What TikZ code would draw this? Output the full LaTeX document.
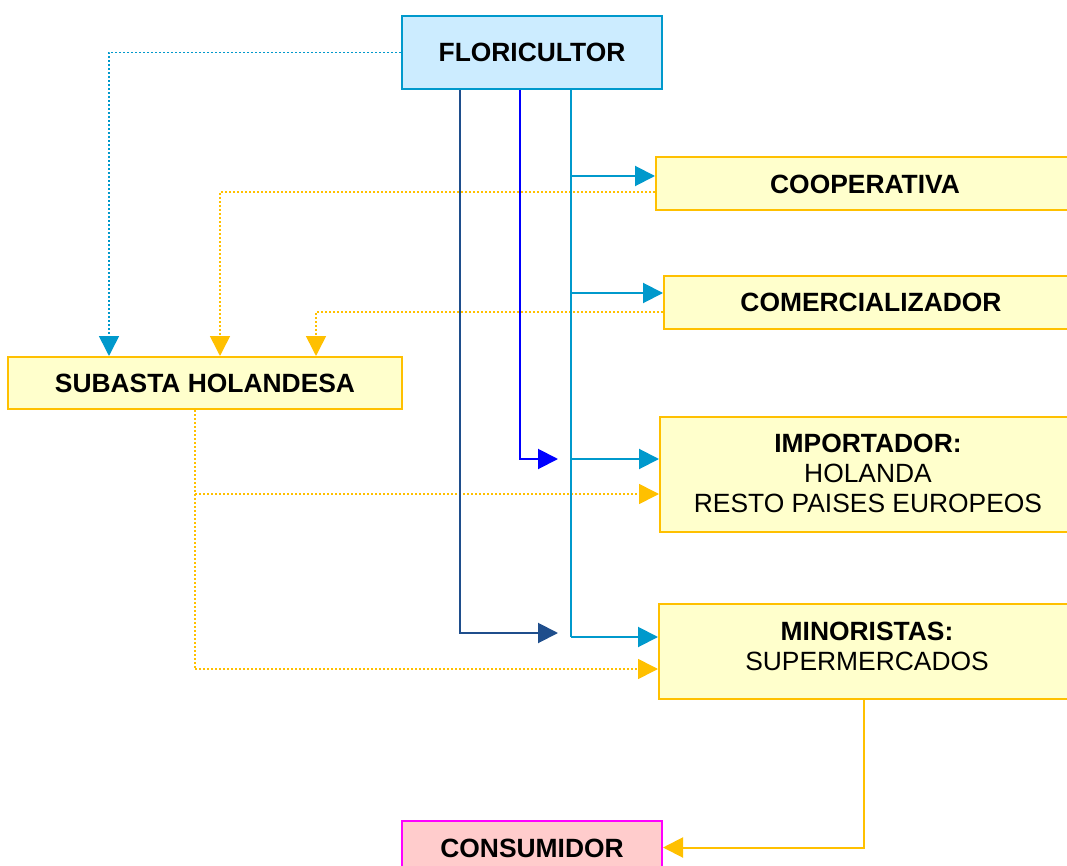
\documentclass[tikz,border=0pt]{standalone}
\usepackage{fontspec}
\setmainfont{Liberation Sans}
\usetikzlibrary{arrows.meta,fit}
\definecolor{cyanline}{HTML}{0099CC}
\definecolor{navyline}{HTML}{1F4E8C}
\definecolor{blueline}{HTML}{0000FF}
\definecolor{amber}{HTML}{FFC000}
\definecolor{paleyellow}{HTML}{FFFFCC}
\definecolor{paleblue}{HTML}{CCECFF}
\definecolor{palepink}{HTML}{FFCCCC}
\definecolor{magentaline}{HTML}{FF00FF}
\tikzset{
  tip/.style={-{Triangle[length=15pt,width=15pt]}},
  box/.style={draw=amber, fill=paleyellow, line width=1.5pt, inner sep=0pt},
  label/.style={inner sep=0pt, align=center, font=\fontsize{19.8pt}{22.5pt}\selectfont},
  head/.style={label, font=\fontsize{19.8pt}{22.5pt}\selectfont\bfseries},
  solidlink/.style={line width=1.5pt, tip},
  dotlink/.style={line width=1.2pt, dash pattern=on 1.2pt off 1.8pt, tip},
}
\begin{document}
\begin{tikzpicture}[x=0.75pt, y=-0.75pt]
\clip (0,0) rectangle (1067,866);
\fill[white] (0,0) rectangle (1067,866);

% boxes
\node[box, draw=cyanline, fill=paleblue, fit={(402,16) (662,89)}] (flor) {};
\node[box, fit={(656,157) (1075,210)}] (coop) {};
\node[box, fit={(664,276) (1079,329)}] (comer) {};
\node[box, fit={(660,417) (1077,532)}] (imp) {};
\node[box, fit={(659,604) (1075,699)}] (mino) {};
\node[box, fit={(8,357) (402,409)}] (sub) {};
\node[box, draw=magentaline, fill=palepink, fit={(402,821) (662,874)}] (cons) {};

% box texts
\node[head] (flortext) at (532,52) {FLORICULTOR};
\node[head] (cooptext) at (865,184) {COOPERATIVA};
\node[head] (comertext) at (871,302) {COMERCIALIZADOR};
\node[label] (imptext) at (868,473) {{\bfseries IMPORTADOR:}\\HOLANDA\\RESTO PAISES EUROPEOS};
\node[label] (minotext) at (867,646) {{\bfseries MINORISTAS:}\\SUPERMERCADOS};
\node[head] (subtext) at (205,383) {SUBASTA HOLANDESA};
\node[head] (constext) at (532,848) {CONSUMIDOR};

% helper coordinates
\coordinate (xa) at (109,0);
\coordinate (xb) at (220,0);
\coordinate (xc) at (316,0);
\coordinate (xd) at (195,0);
\coordinate (xnavy) at (460,0);
\coordinate (xblue) at (520,0);
\coordinate (xcyan) at (571,0);
\coordinate (navyend) at (558,633);
\coordinate (blueend) at (558,459);
\coordinate (cyanbot) at (571,637);
\coordinate (y176) at (0,176);
\coordinate (y192) at (0,192);
\coordinate (y293) at (0,293);
\coordinate (y312) at (0,312);
\coordinate (y459) at (0,459);
\coordinate (y494) at (0,494);
\coordinate (y669) at (0,669);
\coordinate (xmino) at (864,0);

% dotted links into the auction
\draw[dotlink, cyanline] (flor.west) -| (sub.north -| xa);
\draw[dotlink, amber] (coop.west |- y192) -| (sub.north -| xb);
\draw[dotlink, amber] (comer.west |- y312) -| (sub.north -| xc);

% dotted links out of the auction
\draw[dotlink, amber, -] (sub.south -| xd) -- (xd |- y669);
\draw[dotlink, amber] (xd |- y494) -- (imp.west |- y494);
\draw[dotlink, amber] (xd |- y669) -- (mino.west |- y669);

% solid links from the grower
\draw[solidlink, navyline] (flor.south -| xnavy) |- (navyend);
\draw[solidlink, blueline] (flor.south -| xblue) |- (blueend);
\draw[line width=1.5pt, cyanline] (flor.south -| xcyan) -- (cyanbot);
\draw[solidlink, cyanline] (xcyan |- y176) -- (coop.west |- y176);
\draw[solidlink, cyanline] (xcyan |- y293) -- (comer.west |- y293);
\draw[solidlink, cyanline] (xcyan |- y459) -- (imp.west |- y459);
\draw[solidlink, cyanline] (cyanbot) -- (mino.west |- cyanbot);

% retail to consumer
\draw[solidlink, amber] (mino.south -| xmino) |- (cons.east);
\end{tikzpicture}
\end{document}
